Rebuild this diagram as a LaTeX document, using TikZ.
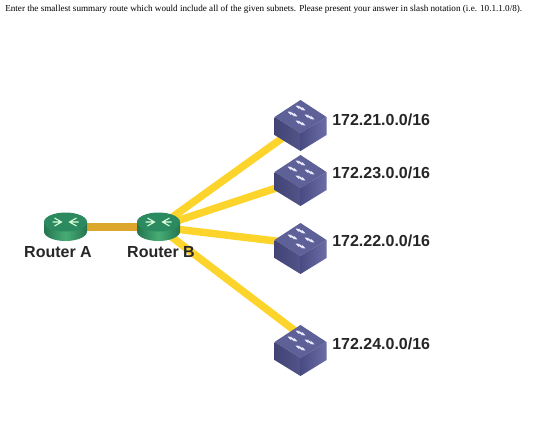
\documentclass[tikz,border=0pt]{standalone}
\usepackage{fontspec}
\setmainfont{Liberation Serif}
\setsansfont{Liberation Sans}
\usepackage{xcolor}
\usetikzlibrary{arrows.meta, positioning, calc}
\definecolor{linkgold}{HTML}{DDA62C}
\definecolor{linkyellow}{HTML}{FDD42C}
\definecolor{routertop}{HTML}{2B8A5F}
\definecolor{routerside}{HTML}{47AC74}
\definecolor{switchtop}{HTML}{5E6098}
\definecolor{switchleft}{HTML}{494B83}
\definecolor{switchright}{HTML}{6C6DA6}

\tikzset{
  devspot/.style={inner sep=0pt, minimum size=0pt},
  devlabel/.style={font=\sffamily\bfseries\fontsize{12}{14}\selectfont, text=black!85, inner sep=0pt},
  subnetlabel/.style={devlabel, anchor=west},
  uplink/.style={draw=linkgold, line width=5.6pt},
  sublink/.style={draw=linkyellow, line width=5.6pt},
  pics/routericon/.style={code={
    \path[left color=routertop!85!black, right color=routertop!85!black, middle color=routerside]
      (-21.5,-5) -- (-21.5,4.5) arc[start angle=180, end angle=0, x radius=21.5, y radius=9.5]
      -- (21.5,-5) -- cycle;
    \fill[routertop] (0,-5) ellipse[x radius=21.5, y radius=9.5];
    \draw[green!15!white, line width=.8pt] (-11,-9) -- (-4,-5) -- (-11,-1) (11,-9) -- (4,-5) -- (11,-1)
      (-13,-5) -- (-4,-5) (13,-5) -- (4,-5);
  }},
  pics/switchicon/.style={code={
    \fill[switchtop] (0,-25) -- (26,-8) -- (0,8) -- (-26,-8) -- cycle;
    \path[left color=switchleft!90!black, right color=switchleft!95!white]
      (-26,-8) -- (0,8) -- (0,26) -- (-26,10) -- cycle;
    \path[left color=switchleft, right color=switchright]
      (26,-8) -- (0,8) -- (0,26) -- (26,10) -- cycle;
    \foreach \dx/\dy in {0/-17, -8/-11, 9/-8, 0/-2}
      \draw[{Stealth[length=3.5pt]}-{Stealth[length=3.5pt]}, blue!8!white, line width=1.2pt]
        (\dx-5,\dy-2.5) -- (\dx+5,\dy+2.5);
  }}
}

\begin{document}
\begin{tikzpicture}[x=0.75pt, y=-0.75pt]
  \useasboundingbox (0,0) rectangle (540,429);

  \node[anchor=west, inner sep=0pt, font=\fontsize{6.85}{8}\selectfont] (question) at (5,9)
    {Enter the smallest summary route which would include all of the given subnets. Please present your answer in slash notation (i.e. 10.1.1.0/8).};

  \node[devspot] (routerA) at (65.5,227) {};
  \node[devspot] (routerB) at (158.5,227) {};
  \node[devspot] (sw21) at (300.5,125) {};
  \node[devspot] (sw23) at (300.5,180) {};
  \node[devspot] (sw22) at (300.5,248) {};
  \node[devspot] (sw24) at (300.5,350) {};

  % links go under the icons
  \draw[uplink] (routerA) -- (routerB);
  \draw[sublink] (routerB) -- (sw21);
  \draw[sublink] (routerB) -- (sw23);
  \draw[sublink] (routerB) -- ($(sw22)+(0,-4)$);
  \draw[sublink] (routerB) -- ($(sw24)+(0,-15)$);

  \pic at (routerA) {routericon};
  \pic at (routerB) {routericon};
  \pic at (sw21) {switchicon};
  \pic at (sw23) {switchicon};
  \pic at (sw22) {switchicon};
  \pic at (sw24) {switchicon};

  \node[devlabel] (labelA) at (58,252) {Router A};
  \node[devlabel] (labelB) at (161,252) {Router B};
  \node[subnetlabel] (label21) at (332,120) {172.21.0.0/16};
  \node[subnetlabel] (label23) at (332,173) {172.23.0.0/16};
  \node[subnetlabel] (label22) at (332,241) {172.22.0.0/16};
  \node[subnetlabel] (label24) at (332,344) {172.24.0.0/16};
\end{tikzpicture}
\end{document}
